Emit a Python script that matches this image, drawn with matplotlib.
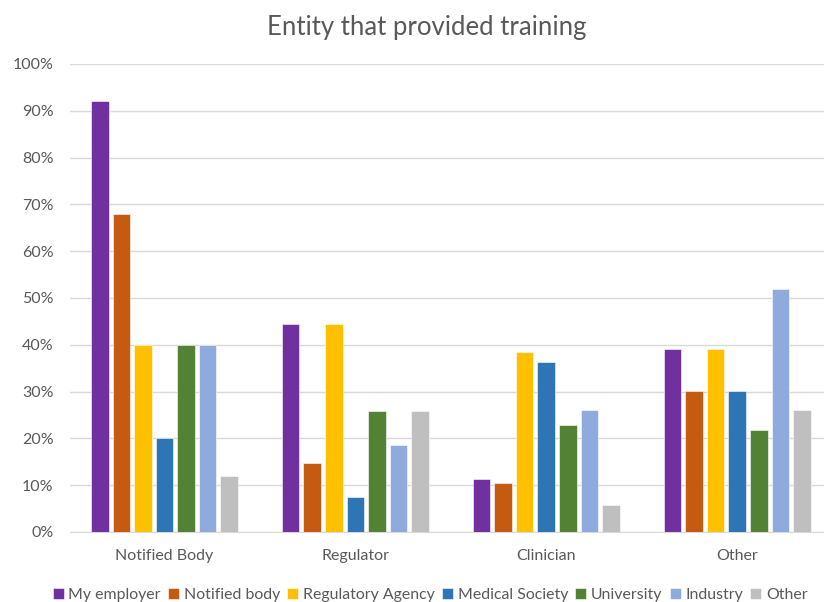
import numpy as np
import matplotlib
matplotlib.use("Agg")
import matplotlib.pyplot as plt

categories = ["Notified Body", "Regulator", "Clinician", "Other"]
series_names = ["My employer", "Notified body", "Regulatory Agency",
                "Medical Society", "University", "Industry", "Other"]
colors = ["#7030A0", "#C55A11", "#FFC000", "#2E75B6", "#548235", "#8FAADC", "#BFBFBF"]

# share (%) per training entity, one list per series, ordered by category
my_employer = [92.0, 44.4, 11.3, 39.1]
notified_body = [68.0, 14.8, 10.4, 30.2]
regulatory_agency = [40.0, 44.4, 38.5, 39.1]
medical_society = [20.0, 7.4, 36.3, 30.2]
university = [40.0, 25.9, 22.8, 21.7]
industry = [40.0, 18.5, 26.1, 52.0]
other = [12.0, 25.9, 5.8, 26.1]

values = [my_employer, notified_body, regulatory_agency, medical_society,
          university, industry, other]

plt.rcParams['font.family'] = ['Lato', 'DejaVu Sans']
text_color = "#595959"

fig = plt.figure(figsize=(8.24, 6.02), dpi=100)
ax = fig.add_axes([0.085, 0.1163, 0.915, 0.7774])

x = np.arange(len(categories))
pitch = 0.113
width = 0.092
for i, (name, vals) in enumerate(zip(series_names, values)):
    offset = (i - 3) * pitch
    ax.bar(x + offset, vals, width, color=colors[i], label=name,
           edgecolor="white", linewidth=0.4, zorder=3)

ax.set_ylim(0, 100)
ax.set_xlim(-0.495, 3.455)
ax.set_yticks(np.arange(0, 101, 10))
ax.set_yticklabels([f"{v}%" for v in range(0, 101, 10)])
ax.set_xticks(x)
ax.set_xticklabels(categories)
ax.tick_params(axis="both", length=0, colors=text_color, labelsize=11.5)
ax.tick_params(axis="y", pad=12)
ax.tick_params(axis="x", pad=12)
ax.grid(axis="y", color="#D9D9D9", linewidth=1.0, zorder=0)
for s in ["top", "right", "left"]:
    ax.spines[s].set_visible(False)
ax.spines["bottom"].set_color("#D9D9D9")

fig.text(0.518, 0.955, "Entity that provided training", ha="center", va="center",
         fontsize=18.5, color=text_color)

fig.legend(loc="center", bbox_to_anchor=(0.522, 0.012), ncol=7, frameon=False,
           fontsize=11.4, handlelength=0.7, handleheight=0.7, handletextpad=0.3,
           columnspacing=0.45, labelcolor=text_color)

fig.savefig("out.png", dpi=100)
